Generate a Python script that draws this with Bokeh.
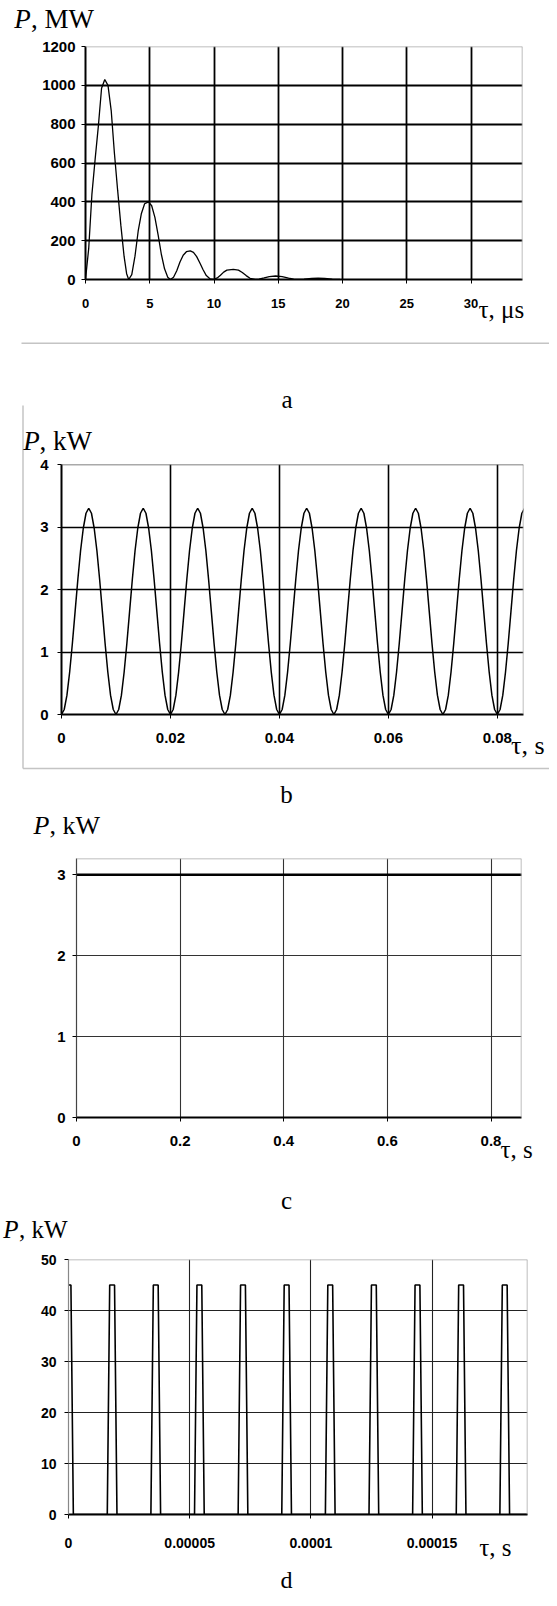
from bokeh.plotting import figure
from bokeh.models import Label, FixedTicker, NumeralTickFormatter, Range1d, Span
from bokeh.embed import file_html
from bokeh.resources import INLINE

# ---------------- data ----------------
# panel a: tau (microseconds) vs P (MW)
t_a = [0, 0.25, 0.5, 0.75, 1.0, 1.25, 1.5, 1.75, 2.0, 2.25, 2.5, 2.75, 3.0, 3.2, 3.36,
       3.6, 3.85, 4.1, 4.35, 4.6, 4.9, 5.15, 5.4, 5.65, 5.9, 6.15, 6.4, 6.6,
       6.85, 7.1, 7.35, 7.6, 7.85, 8.15, 8.4, 8.65, 8.9, 9.15, 9.4, 9.7, 9.95,
       10.25, 10.5, 10.75, 11.0, 11.5, 11.9, 12.2, 12.5, 12.8, 13.2,
       13.5, 13.9, 14.3, 14.8, 15.3, 15.8, 16.2, 16.5,
       17.0, 17.6, 18.1, 18.6, 19.2, 19.8]
p_a = [0, 160, 440, 620, 790, 985, 1030, 1000, 870, 650, 460, 280, 120, 30, 0,
       25, 120, 250, 340, 390, 400, 380, 320, 230, 130, 55, 12, 0,
       12, 45, 90, 125, 143, 147, 140, 118, 85, 50, 20, 3, 0,
       8, 22, 38, 48, 52, 48, 36, 20, 6, 0,
       2, 8, 15, 18, 15, 7, 2, 0,
       2, 6, 7, 6, 2, 0]
xticks_a = [0, 5, 10, 15, 20, 25, 30]
yticks_a = [0, 200, 400, 600, 800, 1000, 1200]

# panel b: tau (s) sampled every 0.0005 s vs P (kW)
t_step_b = 0.0005
p_b = [0.00, 0.08, 0.31, 0.68, 1.14, 1.65, 2.16, 2.62, 2.98, 3.22, 3.30, 3.22, 2.98, 2.62, 2.16, 1.65, 1.14, 0.68, 0.31, 0.08,
       0.00, 0.08, 0.31, 0.68, 1.14, 1.65, 2.16, 2.62, 2.98, 3.22, 3.30, 3.22, 2.98, 2.62, 2.16, 1.65, 1.14, 0.68, 0.31, 0.08,
       0.00, 0.08, 0.31, 0.68, 1.14, 1.65, 2.16, 2.62, 2.98, 3.22, 3.30, 3.22, 2.98, 2.62, 2.16, 1.65, 1.14, 0.68, 0.31, 0.08,
       0.00, 0.08, 0.31, 0.68, 1.14, 1.65, 2.16, 2.62, 2.98, 3.22, 3.30, 3.22, 2.98, 2.62, 2.16, 1.65, 1.14, 0.68, 0.31, 0.08,
       0.00, 0.08, 0.31, 0.68, 1.14, 1.65, 2.16, 2.62, 2.98, 3.22, 3.30, 3.22, 2.98, 2.62, 2.16, 1.65, 1.14, 0.68, 0.31, 0.08,
       0.00, 0.08, 0.31, 0.68, 1.14, 1.65, 2.16, 2.62, 2.98, 3.22, 3.30, 3.22, 2.98, 2.62, 2.16, 1.65, 1.14, 0.68, 0.31, 0.08,
       0.00, 0.08, 0.31, 0.68, 1.14, 1.65, 2.16, 2.62, 2.98, 3.22, 3.30, 3.22, 2.98, 2.62, 2.16, 1.65, 1.14, 0.68, 0.31, 0.08,
       0.00, 0.08, 0.31, 0.68, 1.14, 1.65, 2.16, 2.62, 2.98, 3.22, 3.30, 3.22, 2.98, 2.62, 2.16, 1.65, 1.14, 0.68, 0.31, 0.08,
       0.00, 0.08, 0.31, 0.68, 1.14, 1.65, 2.16, 2.62, 2.98, 3.22, 3.30]
t_b = [i * t_step_b for i in range(len(p_b))]
xticks_b = [0, 0.02, 0.04, 0.06, 0.08]
yticks_b = [0, 1, 2, 3, 4]

# panel c: constant power
t_c = [0, 0.87]
p_c = [3, 3]
xticks_c = [0, 0.2, 0.4, 0.6, 0.8]
yticks_c = [0, 1, 2, 3]

# panel d: pulses (s) vs P (kW)
t_d = [0, 0.1e-5, 0.2e-5,
       1.6e-5, 1.7e-5, 1.9e-5, 2.0e-5,
       3.4e-5, 3.5e-5, 3.7e-5, 3.8e-5,
       5.2e-5, 5.3e-5, 5.5e-5, 5.6e-5,
       7.0e-5, 7.1e-5, 7.3e-5, 7.4e-5,
       8.8e-5, 8.9e-5, 9.1e-5, 9.2e-5,
       10.6e-5, 10.7e-5, 10.9e-5, 11.0e-5,
       12.4e-5, 12.5e-5, 12.7e-5, 12.8e-5,
       14.2e-5, 14.3e-5, 14.5e-5, 14.6e-5,
       16.0e-5, 16.1e-5, 16.3e-5, 16.4e-5,
       17.8e-5, 17.9e-5, 18.1e-5, 18.2e-5,
       19.2e-5]
p_d = [45, 45, 0,
       0, 45, 45, 0,
       0, 45, 45, 0,
       0, 45, 45, 0,
       0, 45, 45, 0,
       0, 45, 45, 0,
       0, 45, 45, 0,
       0, 45, 45, 0,
       0, 45, 45, 0,
       0, 45, 45, 0,
       0, 45, 45, 0,
       0]
xticks_d = [0, 0.00005, 0.0001, 0.00015]
yticks_d = [0, 10, 20, 30, 40, 50]

# ---------------- layout helpers ----------------
W = 549
H_TOTAL = 1590
OVH = H_TOTAL + 8
SERIF = "Liberation Serif"
SANS = "Liberation Sans"


def build(h, top, frame, xr, yr, xt, yt, xg, yg, xtick_size, ytick_size, xstand, ystand,
          grid_w, grid_c, xaxis_w, yaxis_w, yaxis_c, top_c):
    fl, fr, ft, fb = frame
    bl = round(fl - 8)
    fw = round(fr - fl)
    br = W - bl - fw
    bt = round(ft - top)
    fh = round(fb - ft)
    bb = h - bt - fh
    p = figure(width=W, height=h, x_range=Range1d(*xr), y_range=Range1d(*yr),
               output_backend="svg", toolbar_location=None,
               min_border_left=bl, min_border_right=br,
               min_border_top=bt, min_border_bottom=bb,
               background_fill_color="white", border_fill_color="white")
    p.outline_line_color = None
    p.xaxis.ticker = FixedTicker(ticks=xt)
    p.yaxis.ticker = FixedTicker(ticks=yt)
    for ax, size in ((p.xaxis, xtick_size), (p.yaxis, ytick_size)):
        ax.minor_tick_line_color = None
        ax.major_tick_in = 0
        ax.major_tick_out = 4
        ax.major_label_text_font = SANS
        ax.major_label_text_font_style = "bold"
        ax.major_label_text_font_size = f"{size}px"
        ax.major_label_text_color = "black"
        ax.major_tick_line_color = "black"
    p.xaxis.axis_line_width = xaxis_w
    p.xaxis.axis_line_color = "black"
    p.yaxis.axis_line_width = yaxis_w
    p.yaxis.axis_line_color = yaxis_c
    p.xaxis.major_label_standoff = xstand
    p.yaxis.major_label_standoff = ystand
    p.xgrid.ticker = FixedTicker(ticks=xg)
    p.ygrid.ticker = FixedTicker(ticks=yg)
    for g in (p.xgrid, p.ygrid):
        g.grid_line_color = grid_c
        g.grid_line_width = grid_w
    p.add_layout(Span(location=xr[1], dimension="height", line_color="#a8a8a8", line_width=1.5))
    p.add_layout(Span(location=yr[1], dimension="width", line_color=top_c, line_width=1.5))
    return p


# ---------------- panels ----------------
pa = build(402, 8, (93.4, 530.4, 53.5, 286.7), (0, 34), (0, 1200), xticks_a, yticks_a,
           [5, 10, 15, 20, 25, 30], [200, 400, 600, 800, 1000], 13, 15, 15, 6,
           1.8, "black", 2, 2, "black", "#a8a8a8")
pa.line(t_a, p_a, line_color="black", line_width=1.3)

pb = build(395, 410, (69.3, 531.8, 472, 722.3), (0, 0.0848), (0, 4), xticks_b, yticks_b,
           [0.02, 0.04, 0.06, 0.08], [1, 2, 3], 15, 15, 14, 9,
           1.6, "black", 2, 2, "black", "#555555")
pb.xaxis.formatter = NumeralTickFormatter(format="0.[00]")
pb.line(t_b, p_b, line_color="black", line_width=1.5)

pc = build(407, 805, (84.2, 529.3, 866, 1125), (0, 0.8588), (0, 3.2), xticks_c, yticks_c,
           [0.2, 0.4, 0.6, 0.8], [1, 2], 15, 15, 14, 7,
           1.1, "#333333", 1.8, 1.2, "#444444", "#a8a8a8")
pc.xaxis.formatter = NumeralTickFormatter(format="0.[0]")
pc.line(t_c, p_c, line_color="black", line_width=2.5)

pd_ = build(386, 1212, (75.7, 534.6, 1267, 1521.7), (0, 0.0001894), (0, 50), xticks_d, yticks_d,
            [0.00005, 0.0001, 0.00015], [10, 20, 30, 40], 14, 14, 19, 8,
            1.1, "#222222", 2, 1.2, "#888888", "#a8a8a8")
pd_.xaxis.formatter = NumeralTickFormatter(format="0.[00000]")
pd_.line(t_d, p_d, line_color="black", line_width=1.6)

# ---------------- transparent overlay for the texts outside the plot areas ----------------
ov = figure(width=W, height=OVH, x_range=Range1d(0, W), y_range=Range1d(0, OVH),
            x_axis_type=None, y_axis_type=None, output_backend="svg", toolbar_location=None,
            min_border=0, background_fill_alpha=0, border_fill_alpha=0)
ov.outline_line_color = None
ov.grid.visible = False
try:
    ov.margin = (-H_TOTAL, 0, -(OVH - H_TOTAL), 0)
except Exception:
    ov.styles = {"margin-top": f"-{H_TOTAL}px", "margin-bottom": f"-{OVH - H_TOTAL}px"}


def lab(px, py, text, size, style="normal", align="left"):
    ov.add_layout(Label(x=px - 8, y=OVH + 8 - py, text=text, text_font=SERIF,
                        text_font_size=f"{size}px", text_font_style=style, text_align=align,
                        text_baseline="alphabetic", text_color="black"))


def seg(a, b, color="#c4c4c4", w=1.5):
    ov.line([a[0] - 8, b[0] - 8], [OVH + 8 - a[1], OVH + 8 - b[1]],
            line_color=color, line_width=w)


# panel a texts
lab(21.7, 26, "P", 27, "italic")
lab(38.5, 26, ", MW", 27)
lab(486, 317, "τ, μs", 25)
lab(294.5, 407, "a", 25, align="center")
seg((29, 350.7), (557, 350.7))
# panel b texts
lab(30.7, 448.3, "P", 27, "italic")
lab(47, 448.3, ", kW", 27)
lab(518.6, 753, "τ, s", 26)
lab(294, 801.7, "b", 25, align="center")
seg((30.5, 413), (30.5, 776))
seg((30.5, 776), (557, 776))
# panel c texts
lab(40.9, 833, "P", 26, "italic")
lab(57, 833, ", kW", 26)
lab(508, 1156.7, "τ, s", 25)
lab(294, 1208, "c", 25, align="center")
# panel d texts
lab(10.7, 1236.7, "P", 25, "italic")
lab(26.5, 1236.7, ", kW", 25)
lab(486.7, 1555, "τ, s", 25)
lab(294, 1587, "d", 24, align="center")

# separate roots: each panel keeps its own plot area; the overlay is pulled up over them
open("out.html", "w").write(file_html([pa, pb, pc, pd_, ov], INLINE))
